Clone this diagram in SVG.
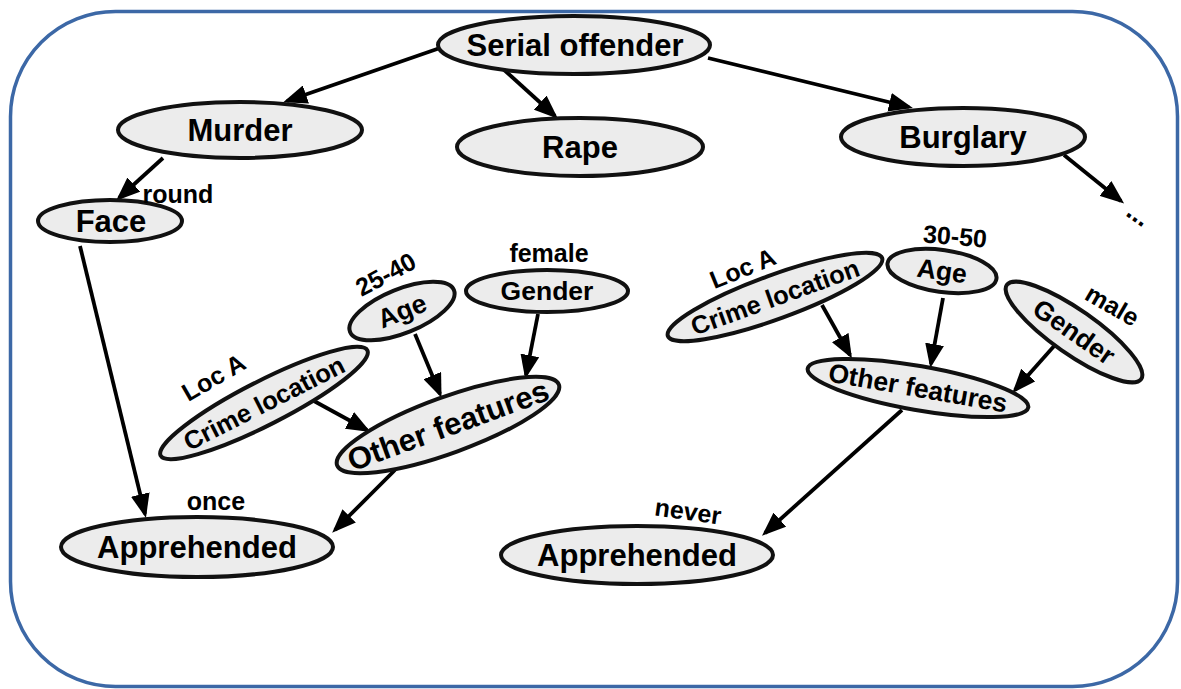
<svg xmlns="http://www.w3.org/2000/svg" width="1181" height="689" viewBox="0 0 1181 689">
  <defs>
    <marker id="arrow" viewBox="0 0 24 19" refX="20" refY="9.5" markerWidth="24" markerHeight="19" markerUnits="userSpaceOnUse" orient="auto">
      <path d="M0,0 L24,9.5 L0,19 z" fill="#000"/>
    </marker>
    <style>
      .node ellipse { fill: #ececec; stroke: #111; stroke-width: 4; }
      text { font-family: "Liberation Sans", Arial, sans-serif; font-weight: bold; fill: #000; text-anchor: middle; }
      .big { font-size: 31px; }
      .mid { font-size: 26.5px; }
      .loc { font-size: 25.5px; }
      .lbl { font-size: 25px; }
      .edges line { stroke: #000; stroke-width: 3.8; marker-end: url(#arrow); }
    </style>
  </defs>

  <rect width="1181" height="689" fill="#fff"/>
  <!-- outer frame -->
  <rect x="10.5" y="11.5" width="1167" height="675" rx="105" ry="105" fill="none" stroke="#3c68a6" stroke-width="3.5"/>

  <!-- connectors -->
  <g class="edges">
    <line x1="440" y1="48" x2="287" y2="101"/>
    <line x1="502" y1="68" x2="555" y2="116"/>
    <line x1="708" y1="58" x2="909" y2="107"/>
    <line x1="1064" y1="155" x2="1121" y2="201"/>
    <line x1="163" y1="158" x2="119" y2="198"/>
    <line x1="80" y1="246" x2="145" y2="514"/>
    <line x1="395" y1="470" x2="335" y2="530"/>
    <line x1="314" y1="401" x2="367" y2="430"/>
    <line x1="415" y1="334" x2="440" y2="394"/>
    <line x1="538" y1="314" x2="526" y2="375"/>
    <line x1="822" y1="305" x2="850" y2="355"/>
    <line x1="943" y1="298" x2="931" y2="364"/>
    <line x1="1055" y1="345" x2="1015" y2="390"/>
    <line x1="902" y1="410" x2="765" y2="533"/>
  </g>

  <!-- top level -->
  <g id="serial-offender" class="node">
    <ellipse cx="574" cy="45" rx="136" ry="29"/>
    <text class="big" x="575" y="56">Serial offender</text>
  </g>
  <g id="murder" class="node">
    <ellipse cx="240" cy="130" rx="122" ry="28"/>
    <text class="big" x="240" y="141">Murder</text>
  </g>
  <g id="rape" class="node">
    <ellipse cx="580" cy="147" rx="123" ry="29"/>
    <text class="big" x="580" y="158">Rape</text>
  </g>
  <g id="burglary" class="node">
    <ellipse cx="963" cy="137" rx="122" ry="29"/>
    <text class="big" x="963" y="148">Burglary</text>
  </g>
  <text class="mid" x="1136" y="222" transform="rotate(35 1136 218)">...</text>

  <!-- murder branch -->
  <g id="face" class="node">
    <ellipse cx="110" cy="221" rx="72" ry="21"/>
    <text class="big" x="111" y="232">Face</text>
  </g>
  <text class="lbl" x="178" y="203">round</text>

  <g id="age-left" class="node" transform="rotate(-22 402 311)">
    <ellipse cx="402" cy="311" rx="56" ry="22"/>
    <text class="mid" x="402" y="320">Age</text>
  </g>
  <text class="lbl" x="386" y="283" transform="rotate(-28 386 275)">25-40</text>

  <g id="gender-left" class="node">
    <ellipse cx="547" cy="291" rx="81" ry="21"/>
    <text class="mid" x="547" y="300">Gender</text>
  </g>
  <text class="lbl" x="549" y="262">female</text>

  <g id="crime-location-left" class="node" transform="rotate(-27 264 403)">
    <ellipse cx="264" cy="403" rx="116" ry="22"/>
    <text class="loc" x="264" y="412">Crime location</text>
  </g>
  <text class="lbl" x="214" y="386" transform="rotate(-30 214 378)">Loc A</text>

  <g id="other-features-left" class="node" transform="rotate(-20 448 425)">
    <ellipse cx="448" cy="425" rx="118" ry="28"/>
    <text class="big" x="448" y="436">Other features</text>
  </g>

  <g id="apprehended-left" class="node">
    <ellipse cx="197" cy="547" rx="136" ry="30"/>
    <text class="big" x="197" y="558">Apprehended</text>
  </g>
  <text class="lbl" x="216" y="510">once</text>

  <!-- burglary branch -->
  <g id="crime-location-right" class="node" transform="rotate(-20 775 297)">
    <ellipse cx="775" cy="297" rx="114" ry="22"/>
    <text class="loc" x="775" y="306">Crime location</text>
  </g>
  <text class="lbl" x="743" y="277" transform="rotate(-22 743 269)">Loc A</text>

  <g id="age-right" class="node" transform="rotate(8 942 271)">
    <ellipse cx="942" cy="271" rx="55" ry="21"/>
    <text class="mid" x="942" y="280">Age</text>
  </g>
  <text class="lbl" x="955" y="245" transform="rotate(5 955 237)">30-50</text>

  <g id="gender-right" class="node" transform="rotate(35 1074 332)">
    <ellipse cx="1074" cy="332" rx="82" ry="22"/>
    <text class="mid" x="1074" y="341">Gender</text>
  </g>
  <text class="lbl" x="1112" y="314" transform="rotate(30 1112 306)">male</text>

  <g id="other-features-right" class="node" transform="rotate(10 918 388)">
    <ellipse cx="918" cy="388" rx="112" ry="22"/>
    <text class="mid" x="918" y="397">Other features</text>
  </g>

  <g id="apprehended-right" class="node">
    <ellipse cx="637" cy="555" rx="136" ry="29"/>
    <text class="big" x="637" y="566">Apprehended</text>
  </g>
  <text class="lbl" x="688" y="520" transform="rotate(8 688 512)">never</text>
</svg>
